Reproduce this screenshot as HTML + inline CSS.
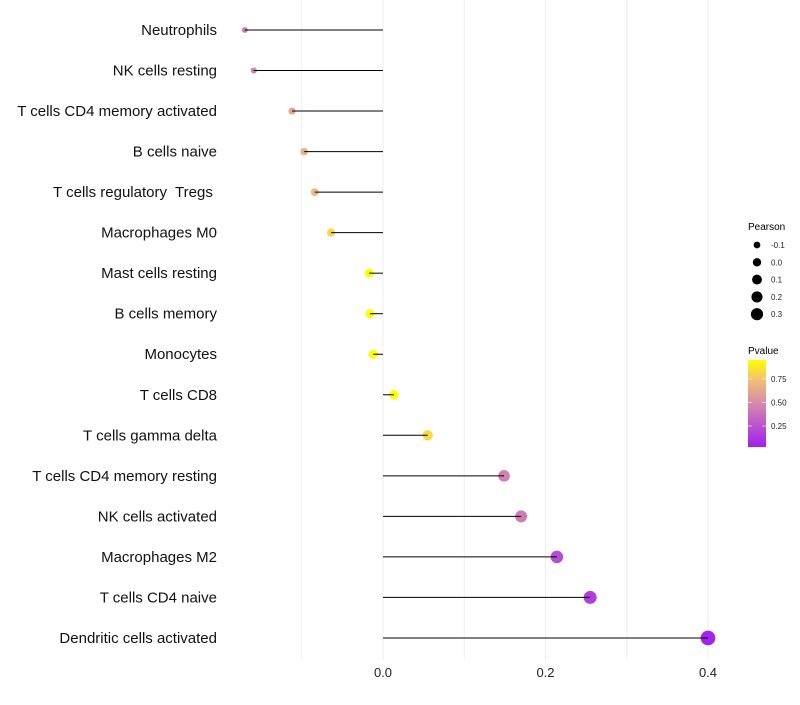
<!DOCTYPE html>
<html><head><meta charset="utf-8"><style>
body{margin:0;background:#fff;font-family:"Liberation Sans",sans-serif}
svg text{font-family:"Liberation Sans",sans-serif;white-space:pre}
</style></head><body>
<svg id="chart" width="800" height="700" viewBox="0 0 800 700" xmlns="http://www.w3.org/2000/svg">
<defs>
<linearGradient id="pg" x1="0" y1="1" x2="0" y2="0">
<stop offset="0" stop-color="#a01ff0"/>
<stop offset="0.5" stop-color="#d58aab"/>
<stop offset="0.76" stop-color="#f2bd78"/>
<stop offset="1" stop-color="#ffff00"/>
</linearGradient>
</defs>
<g id="grid"></g>
<g id="marks"></g>
<g id="ylabels"></g>
<g id="xlabels"></g>
<g id="sizeLegend">
<text x="748" y="230" font-size="10">Pearson</text>
</g>
<g>
<text x="748" y="354" font-size="10">Pvalue</text>
<rect x="748" y="360" width="18" height="87" fill="url(#pg)"/>
<g id="cbTicks"></g>
</g>
</svg>
<script>
const categories=["Neutrophils","NK cells resting","T cells CD4 memory activated","B cells naive","T cells regulatory  Tregs ","Macrophages M0","Mast cells resting","B cells memory","Monocytes","T cells CD8","T cells gamma delta","T cells CD4 memory resting","NK cells activated","Macrophages M2","T cells CD4 naive","Dendritic cells activated"];
const pearson=[-0.170,-0.159,-0.112,-0.097,-0.084,-0.064,-0.017,-0.016,-0.012,0.0135,0.055,0.149,0.170,0.214,0.255,0.400];
const pvalue=[0.42,0.45,0.62,0.66,0.70,0.80,0.97,0.97,0.97,0.97,0.82,0.45,0.42,0.22,0.16,0.05];
const xTicks=[0.0,0.2,0.4];
const sizeLegend=[-0.1,0.0,0.1,0.2,0.3];
const cbTicks=[0.25,0.50,0.75];
const NS="http://www.w3.org/2000/svg";
const xs=v=>383+v*812.5;
const ys=i=>30+i*40.53;
const rs=v=>Math.sqrt(Math.max(1,22+80*v));
const cy=p=>447-(p-0.027)*(87/(0.95-0.027));
const stops=[[0,[160,31,240]],[0.5,[213,138,171]],[0.75,[242,189,120]],[1,[255,255,0]]];
function col(p){
  let t=(p-0.027)/(0.95-0.027);t=Math.max(0,Math.min(1,t));
  for(let k=0;k<stops.length-1;k++){const a=stops[k],b=stops[k+1];
    if(t<=b[0]){const f=(t-a[0])/(b[0]-a[0]);return "rgb("+a[1].map((c,j)=>Math.round(c+(b[1][j]-c)*f)).join(",")+")";}}
  return "rgb(255,255,0)";
}
function mk(tag,attrs,parent){const e=document.createElementNS(NS,tag);for(const k in attrs)e.setAttribute(k,attrs[k]);parent.appendChild(e);return e;}
const grid=document.getElementById('grid');
[-0.1,0.0,0.1,0.2,0.3,0.4].forEach(v=>{
  const l=mk('line',{x1:xs(v),x2:xs(v),y1:0,y2:660,stroke:'#efefef','stroke-width':1},grid);
  
  
});
const marks=document.getElementById('marks');
const yl=document.getElementById('ylabels');
categories.forEach((c,i)=>{
  const pt=mk('circle',{cx:xs(pearson[i]),cy:ys(i),r:rs(pearson[i]),fill:col(pvalue[i])},marks);
  
  
  const ln=mk('line',{x1:xs(0),x2:xs(pearson[i]),y1:ys(i),y2:ys(i),stroke:'#000','stroke-width':1},marks);
  
  
  const t=mk('text',{x:217,y:ys(i)+5,'text-anchor':'end','font-size':15,fill:'#111'},yl);
  t.textContent=c;
  
  
});
const xl=document.getElementById('xlabels');
xTicks.forEach(v=>{
  const t=mk('text',{x:xs(v),y:677,'text-anchor':'middle','font-size':13,fill:'#222'},xl);
  t.textContent=v.toFixed(1);
  
  
});
const sl=document.getElementById('sizeLegend');
sizeLegend.forEach((v,i)=>{
  const y=245+i*17.3;
  const c=mk('circle',{cx:757,cy:y,r:rs(v)*0.9,fill:'#000'},sl);
  
  
  const t=mk('text',{x:771,y:y+3,'font-size':8,fill:'#222'},sl);
  t.textContent=v.toFixed(1);
  
  
});
const cbt=document.getElementById('cbTicks');
cbTicks.forEach(p=>{
  const y=cy(p);
  mk('line',{x1:748,x2:752,y1:y,y2:y,stroke:'#fff','stroke-width':0.8,opacity:0.7},cbt);
  mk('line',{x1:762,x2:766,y1:y,y2:y,stroke:'#fff','stroke-width':0.8,opacity:0.7},cbt);
  const t=mk('text',{x:771,y:y+3,'font-size':8,fill:'#222'},cbt);
  t.textContent=p.toFixed(2);
  
  
});
</script>
</body></html>
